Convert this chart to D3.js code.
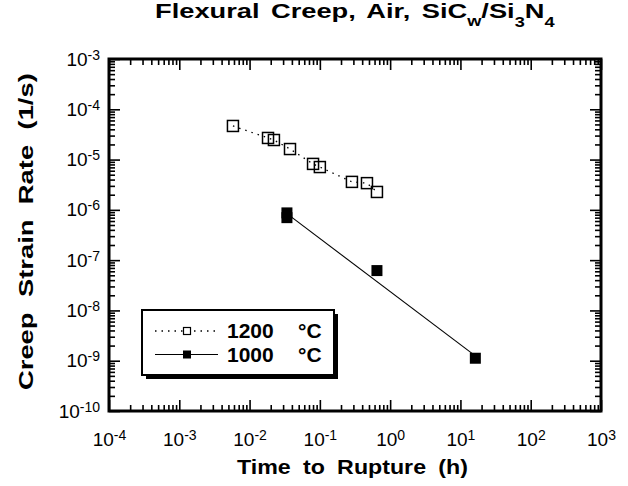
<!DOCTYPE html>
<html>
<head>
<meta charset="utf-8">
<script src="https://cdn.jsdelivr.net/npm/d3@7"></script>
<style>
  body { margin: 0; background: #fff; }
  svg text { font-family: "Liberation Sans", Arial, Helvetica, sans-serif; fill: #000; }
</style>
</head>
<body>
<svg id="chart" width="628" height="486"></svg>
<script>
// time to rupture (h) and creep strain rate (1/s)
const hours1200 = [0.0058, 0.0183, 0.0222, 0.0376, 0.080, 0.100, 0.286, 0.468, 0.649];
const rate1200 = [4.66e-5, 2.69e-5, 2.45e-5, 1.62e-5, 8.2e-6, 7.1e-6, 3.6e-6, 3.4e-6, 2.27e-6];

const hours1000 = [0.034, 0.034, 0.649, 16.3];
const rate1000 = [8.7e-7, 7.0e-7, 6.2e-8, 1.12e-9];

// power-law fit drawn through the 1000 C data
const fitHours1000 = [0.034, 16.3];
const fitRate1000 = [8.4e-7, 1.25e-9];

const legendLabels = ["1200", "1000"];
const xDomain = [1e-4, 1e3];
const yDomain = [1e-10, 1e-3];

var margin = ({ top: 59, right: 27, bottom: 75, left: 109 });
var width = 628, height = 486;

var svg = d3.select("#chart");

var x = d3.scaleLog().domain(xDomain).range([margin.left, width - margin.right]);
var y = d3.scaleLog().domain(yDomain).range([height - margin.bottom, margin.top]);

var isDecade = v => Math.abs(Math.log10(v) - Math.round(Math.log10(v))) < 1e-9;
var xMajor = x.ticks().filter(isDecade), xMinor = x.ticks().filter(v => !isDecade(v));
var yMajor = y.ticks().filter(isDecade), yMinor = y.ticks().filter(v => !isDecade(v));

function fitText(g, w) {
  var t = g.select("text");
  var bw = t.node().getBBox().width;
  t.attr("transform", `scale(${w / bw},1)`);
}

function sup(sel, v) {
  sel.text("");
  sel.append("tspan").text("10");
  sel.append("tspan").attr("font-size", 14).attr("dy", -6).text(Math.round(Math.log10(v)));
}

var bottom = y.range()[0], top_ = y.range()[1], left = x.range()[0], right = x.range()[1];

// minor ticks all round
[[d3.axisBottom(x), `translate(0,${bottom})`, xMinor],
 [d3.axisTop(x), `translate(0,${top_})`, xMinor],
 [d3.axisLeft(y), `translate(${left},0)`, yMinor],
 [d3.axisRight(y), `translate(${right},0)`, yMinor]].forEach(function(a) {
  svg.append("g").attr("transform", a[1])
    .call(a[0].tickValues(a[2]).tickSize(-6).tickFormat(""))
    .call(g => g.selectAll(".domain, text").remove())
    .selectAll("line").attr("stroke", "#000").attr("stroke-width", 1.5);
});

var xAxis = svg.append("g").attr("transform", `translate(0,${bottom})`)
  .call(d3.axisBottom(x).tickValues(xMajor).tickSize(-11).tickPadding(22));
var yAxis = svg.append("g").attr("transform", `translate(${left},0)`)
  .call(d3.axisLeft(y).tickValues(yMajor).tickSize(-11).tickPadding(9));
svg.append("g").attr("transform", `translate(0,${top_})`)
  .call(d3.axisTop(x).tickValues(xMajor).tickSize(-11).tickFormat(""))
  .call(g => g.selectAll("text").remove());
svg.append("g").attr("transform", `translate(${right},0)`)
  .call(d3.axisRight(y).tickValues(yMajor).tickSize(-11).tickFormat(""))
  .call(g => g.selectAll("text").remove());

svg.selectAll(".domain").remove();
svg.selectAll(".tick line").attr("stroke", "#000").attr("stroke-width", 1.6);
[xAxis, yAxis].forEach(function(ax) {
  ax.selectAll(".tick text").attr("font-size", 19).attr("fill", "#000")
    .each(function(d) { sup(d3.select(this), d); });
});
xAxis.selectAll(".tick text").attr("dy", "0.71em");

// frame
svg.append("rect")
  .attr("x", left).attr("y", top_)
  .attr("width", right - left).attr("height", bottom - top_)
  .attr("fill", "none").attr("stroke", "#000").attr("stroke-width", 3);

// 1200 C: dotted polyline, open squares
var line = d3.line().x(d => x(d[0])).y(d => y(d[1]));
var pts1200 = hours1200.map((h, i) => [h, rate1200[i]]);
var pts1000 = hours1000.map((h, i) => [h, rate1000[i]]);
var fit1000 = fitHours1000.map((h, i) => [h, fitRate1000[i]]);

svg.append("path").datum(pts1200)
  .attr("d", line).attr("fill", "none").attr("stroke", "#000")
  .attr("stroke-width", 1.3).attr("stroke-dasharray", "1.5,5");

svg.append("path").datum(fit1000)
  .attr("d", line).attr("fill", "none").attr("stroke", "#000").attr("stroke-width", 1.1);

var s = 11;
svg.append("g").selectAll("rect").data(pts1200).join("rect")
  .attr("x", d => x(d[0]) - s / 2).attr("y", d => y(d[1]) - s / 2)
  .attr("width", s).attr("height", s)
  .attr("fill", "#fff").attr("fill-opacity", 0).attr("stroke", "#000").attr("stroke-width", 1.5);

svg.append("g").selectAll("rect").data(pts1000).join("rect")
  .attr("x", d => x(d[0]) - s / 2).attr("y", d => y(d[1]) - s / 2)
  .attr("width", s).attr("height", s).attr("fill", "#000");

// legend
var lg = svg.append("g").attr("transform", "translate(142,310)");
lg.append("rect").attr("x", 4).attr("y", 4).attr("width", 192).attr("height", 65).attr("fill", "#000");
lg.append("rect").attr("width", 192).attr("height", 65)
  .attr("fill", "#fff").attr("stroke", "#000").attr("stroke-width", 2);

legendLabels.forEach(function(lab, i) {
  var ry = 21 + i * 23.5;
  var row = lg.append("g").attr("transform", `translate(0,${ry})`);
  row.append("line").attr("x1", 13).attr("x2", 76).attr("stroke", "#000")
    .attr("stroke-width", i ? 1.1 : 1.3).attr("stroke-dasharray", i ? null : "1.5,5");
  var m = i ? 8 : 7;
  row.append("rect").attr("x", 45 - m / 2).attr("y", -m / 2).attr("width", m).attr("height", m)
    .attr("fill", i ? "#000" : "#fff").attr("stroke", "#000").attr("stroke-width", i ? 0 : 1.2);
  row.append("text").attr("x", 85).attr("y", 7).attr("font-size", 21).attr("font-weight", "bold").text(lab);
  row.append("text").attr("x", 156).attr("y", 7).attr("font-size", 21).attr("font-weight", "bold").text("°C");
});

// titles
var tg = svg.append("g").attr("transform", "translate(155,18)");
var tt = tg.append("text").attr("font-size", 21).attr("font-weight", "bold").attr("word-spacing", 3);
tt.append("tspan").text("Flexural Creep, Air, SiC");
tt.append("tspan").attr("font-size", 14).attr("dy", 8).text("w");
tt.append("tspan").attr("dy", -8).text("/Si");
tt.append("tspan").attr("font-size", 14).attr("dy", 9).text("3");
tt.append("tspan").attr("dy", -9).text("N");
tt.append("tspan").attr("font-size", 14).attr("dy", 9).text("4");
fitText(tg, 400);

var xg = svg.append("g").attr("transform", "translate(237,474)");
xg.append("text").attr("font-size", 20).attr("font-weight", "bold").attr("word-spacing", 5)
  .text("Time to Rupture (h)");
fitText(xg, 231);

var yg = svg.append("g").attr("transform", "translate(33,390) rotate(-90)");
yg.append("text").attr("font-size", 21).attr("font-weight", "bold").attr("word-spacing", 6)
  .text("Creep Strain Rate (1/s)");
fitText(yg, 317);
</script>
</body>
</html>
